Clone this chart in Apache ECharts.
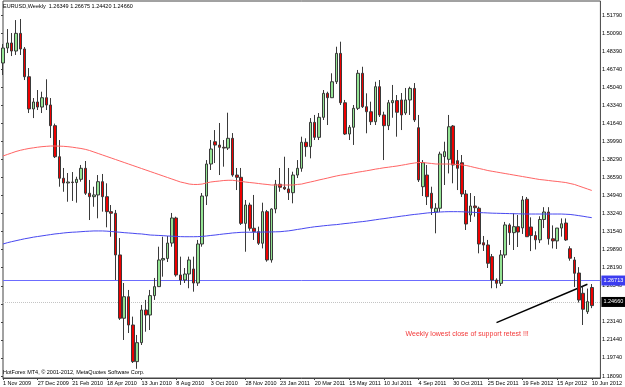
<!DOCTYPE html>
<html>
<head>
<meta charset="utf-8">
<script src="https://cdn.jsdelivr.net/npm/echarts@6/dist/echarts.min.js"></script>
<style>
  html, body { margin: 0; padding: 0; background: #fff; }
  #chart { width: 625px; height: 387px; }
</style>
</head>
<body>
<div id="chart"></div>
<script>
// EURUSD weekly, one bar per week starting Sunday
const symbolName = 'EURUSD,Weekly';
const firstWeek = '2009-11-01';
const copyright = 'HotForex MT4, \u00a9 2001-2012, MetaQuotes Software Corp.';

// right-hand price scale, bottom to top
const priceTicks = [
  '1.18090', '1.19740', '1.21440', '1.23140', '1.24840', '1.26540', '1.28190',
  '1.29890', '1.31540', '1.33240', '1.34940', '1.36590', '1.38290', '1.39990',
  '1.41640', '1.43340', '1.45040', '1.46740', '1.48390', '1.50090', '1.51790'
];

// [open, high, low, close]
const ohlc = [
  [1.4731, 1.4908, 1.4619, 1.4871], [1.4871, 1.5048, 1.4824, 1.4918], [1.4918, 1.5011, 1.4796, 1.4843],
  [1.4843, 1.5132, 1.4806, 1.5008], [1.5008, 1.5142, 1.4806, 1.4862], [1.4862, 1.4880, 1.4572, 1.4603],
  [1.4603, 1.4684, 1.4264, 1.4302], [1.4302, 1.4404, 1.4217, 1.4367], [1.4367, 1.4479, 1.4292, 1.4320],
  [1.4320, 1.4463, 1.4264, 1.4407], [1.4407, 1.4579, 1.4292, 1.4339], [1.4339, 1.4404, 1.4031, 1.4146],
  [1.4146, 1.4165, 1.3844, 1.3856], [1.3856, 1.4012, 1.3576, 1.3655], [1.3655, 1.3751, 1.3529, 1.3611],
  [1.3611, 1.3704, 1.3436, 1.3620], [1.3620, 1.3713, 1.3443, 1.3615], [1.3615, 1.3669, 1.3427, 1.3645],
  [1.3645, 1.3779, 1.3623, 1.3748], [1.3748, 1.3816, 1.3499, 1.3515], [1.3515, 1.3639, 1.3265, 1.3483],
  [1.3483, 1.3576, 1.3389, 1.3499], [1.3499, 1.3685, 1.3281, 1.3623], [1.3623, 1.3695, 1.3343, 1.3483],
  [1.3483, 1.3608, 1.3197, 1.3343], [1.3343, 1.3405, 1.3109, 1.3328], [1.3328, 1.3359, 1.2705, 1.2939],
  [1.2939, 1.3097, 1.2332, 1.2348], [1.2348, 1.2677, 1.2145, 1.2549], [1.2549, 1.2612, 1.2210, 1.2285],
  [1.2285, 1.2363, 1.1930, 1.1943], [1.1943, 1.2192, 1.1876, 1.2120], [1.2120, 1.2472, 1.2098, 1.2425],
  [1.2425, 1.2519, 1.2222, 1.2378], [1.2378, 1.2612, 1.2238, 1.2559], [1.2559, 1.2724, 1.2519, 1.2643],
  [1.2643, 1.3016, 1.2640, 1.2892], [1.2892, 1.3109, 1.2736, 1.2906], [1.2906, 1.3116, 1.2873, 1.3050],
  [1.3050, 1.3331, 1.3016, 1.3284], [1.3284, 1.3296, 1.2736, 1.2752], [1.2752, 1.2923, 1.2659, 1.2705],
  [1.2705, 1.2817, 1.2677, 1.2761], [1.2761, 1.2923, 1.2628, 1.2892], [1.2808, 1.2923, 1.2596, 1.2677],
  [1.2677, 1.3079, 1.2650, 1.3041], [1.3041, 1.3517, 1.3016, 1.3489], [1.3489, 1.3825, 1.3405, 1.3788],
  [1.3788, 1.4012, 1.3732, 1.3928], [1.3996, 1.4105, 1.3797, 1.3965], [1.3965, 1.4171, 1.3685, 1.3944],
  [1.3944, 1.4012, 1.3763, 1.3937], [1.3937, 1.4267, 1.3919, 1.4028], [1.4028, 1.4077, 1.3669, 1.3685],
  [1.3685, 1.3751, 1.3545, 1.3664], [1.3664, 1.3751, 1.3219, 1.3234], [1.3234, 1.3452, 1.2969, 1.3405],
  [1.3405, 1.3427, 1.3165, 1.3188], [1.3188, 1.3499, 1.3079, 1.3156], [1.3156, 1.3203, 1.3032, 1.3048],
  [1.3048, 1.3427, 1.3000, 1.3343], [1.3343, 1.3359, 1.2876, 1.2892], [1.2892, 1.3375, 1.2867, 1.3368],
  [1.3368, 1.3639, 1.3328, 1.3599], [1.3599, 1.3751, 1.3529, 1.3571], [1.3571, 1.3856, 1.3545, 1.3555],
  [1.3555, 1.3751, 1.3452, 1.3520], [1.3520, 1.3716, 1.3421, 1.3685], [1.3685, 1.3825, 1.3657, 1.3748],
  [1.3748, 1.4043, 1.3716, 1.3991], [1.3991, 1.4028, 1.3856, 1.3950], [1.3950, 1.4217, 1.3841, 1.4177],
  [1.4177, 1.4246, 1.4012, 1.4037], [1.4037, 1.4264, 1.4012, 1.4224], [1.4224, 1.4479, 1.4199, 1.4448],
  [1.4448, 1.4463, 1.4152, 1.4407], [1.4407, 1.4635, 1.4404, 1.4556], [1.4556, 1.4883, 1.4535, 1.4821],
  [1.4821, 1.4930, 1.4339, 1.4360], [1.4360, 1.4386, 1.4059, 1.4068], [1.4068, 1.4152, 1.4012, 1.4131],
  [1.4131, 1.4339, 1.3966, 1.4308], [1.4308, 1.4666, 1.4292, 1.4635], [1.4635, 1.4696, 1.4311, 1.4323],
  [1.4323, 1.4448, 1.4075, 1.4276], [1.4276, 1.4370, 1.4152, 1.4183], [1.4183, 1.4556, 1.4152, 1.4510],
  [1.4510, 1.4572, 1.4227, 1.4246], [1.4246, 1.4276, 1.3825, 1.4146], [1.4146, 1.4386, 1.4105, 1.4360],
  [1.4360, 1.4526, 1.4220, 1.4380], [1.4380, 1.4432, 1.4043, 1.4271], [1.4386, 1.4451, 1.4105, 1.4246],
  [1.4264, 1.4498, 1.4246, 1.4386], [1.4386, 1.4510, 1.4246, 1.4494], [1.4494, 1.4544, 1.4180, 1.4199],
  [1.4127, 1.4246, 1.3620, 1.3639], [1.3576, 1.3825, 1.3489, 1.3800], [1.3685, 1.3779, 1.3405, 1.3483],
  [1.3515, 1.3576, 1.3312, 1.3375], [1.3340, 1.3422, 1.3141, 1.3375], [1.3375, 1.3903, 1.3340, 1.3881],
  [1.3857, 1.3996, 1.3592, 1.3903], [1.3832, 1.4246, 1.3700, 1.4136], [1.4143, 1.4152, 1.3608, 1.3779],
  [1.3819, 1.3919, 1.3545, 1.3748], [1.3800, 1.3872, 1.3480, 1.3508], [1.3508, 1.3545, 1.3172, 1.3228],
  [1.3312, 1.3517, 1.3247, 1.3396], [1.3396, 1.3489, 1.3296, 1.3380], [1.3375, 1.3390, 1.2954, 1.3041],
  [1.3053, 1.3116, 1.2976, 1.3032], [1.3032, 1.3079, 1.2817, 1.2861], [1.2923, 1.2948, 1.2628, 1.2705],
  [1.2705, 1.2721, 1.2628, 1.2674], [1.2674, 1.2985, 1.2649, 1.2939], [1.2939, 1.3247, 1.2911, 1.3219],
  [1.3219, 1.3234, 1.3032, 1.3147], [1.3147, 1.3328, 1.2985, 1.3203], [1.3203, 1.3312, 1.3013, 1.3153],
  [1.3191, 1.3489, 1.3135, 1.3452], [1.3459, 1.3480, 1.3107, 1.3109], [1.3200, 1.3290, 1.2975, 1.3120],
  [1.3120, 1.3160, 1.2990, 1.3080], [1.3080, 1.3300, 1.3050, 1.3270], [1.3270, 1.3385, 1.3190, 1.3340],
  [1.3340, 1.3385, 1.3035, 1.3090], [1.3090, 1.3215, 1.3000, 1.3070], [1.3070, 1.3190, 1.2995, 1.3190],
  [1.3190, 1.3280, 1.3110, 1.3230], [1.3237, 1.3280, 1.3070, 1.3079], [1.2997, 1.3020, 1.2885, 1.2908],
  [1.2892, 1.2920, 1.2640, 1.2768], [1.2770, 1.2825, 1.2495, 1.2518], [1.2581, 1.2643, 1.2285, 1.2432],
  [1.2409, 1.2625, 1.2388, 1.2503], [1.26349, 1.26675, 1.24420, 1.24660]
];

// slow moving average (red)
const maRed = [
  1.3863, 1.3877, 1.3891, 1.3905, 1.3916, 1.3925, 1.3933, 1.3939, 1.3945, 1.3950,
  1.3953, 1.3956, 1.3956, 1.3955, 1.3953, 1.3950, 1.3945, 1.3939, 1.3933, 1.3925,
  1.3914, 1.3900, 1.3886, 1.3872, 1.3858, 1.3844, 1.3830, 1.3816, 1.3802, 1.3788,
  1.3774, 1.3760, 1.3746, 1.3732, 1.3718, 1.3704, 1.3690, 1.3676, 1.3662, 1.3648,
  1.3634, 1.3620, 1.3611, 1.3601, 1.3597, 1.3597, 1.3601, 1.3611, 1.3620, 1.3625,
  1.3629, 1.3634, 1.3636, 1.3636, 1.3631, 1.3625, 1.3620, 1.3615, 1.3611, 1.3606,
  1.3601, 1.3597, 1.3592, 1.3592, 1.3592, 1.3592, 1.3592, 1.3592, 1.3597, 1.3601,
  1.3611, 1.3620, 1.3629, 1.3639, 1.3648, 1.3657, 1.3667, 1.3676, 1.3684, 1.3690,
  1.3697, 1.3704, 1.3712, 1.3718, 1.3725, 1.3732, 1.3740, 1.3746, 1.3753, 1.3758,
  1.3764, 1.3769, 1.3776, 1.3783, 1.3791, 1.3797, 1.3802, 1.3802, 1.3797, 1.3793,
  1.3788, 1.3788, 1.3788, 1.3788, 1.3786, 1.3783, 1.3779, 1.3774, 1.3765, 1.3755,
  1.3746, 1.3737, 1.3727, 1.3720, 1.3713, 1.3706, 1.3699, 1.3692, 1.3685, 1.3678,
  1.3671, 1.3664, 1.3657, 1.3650, 1.3643, 1.3639, 1.3634, 1.3629, 1.3625, 1.3620,
  1.3615, 1.3606, 1.3597, 1.3583, 1.3569, 1.3555, 1.3541
];

// longer moving average (blue)
const maBlue = [
  1.3041, 1.3053, 1.3063, 1.3072, 1.3081, 1.3090, 1.3097, 1.3105, 1.3111, 1.3117,
  1.3123, 1.3129, 1.3135, 1.3139, 1.3144, 1.3148, 1.3151, 1.3153, 1.3156, 1.3159,
  1.3161, 1.3163, 1.3163, 1.3163, 1.3161, 1.3158, 1.3154, 1.3151, 1.3147, 1.3144,
  1.3141, 1.3137, 1.3135, 1.3130, 1.3125, 1.3123, 1.3121, 1.3119, 1.3116, 1.3114,
  1.3112, 1.3110, 1.3109, 1.3109, 1.3109, 1.3110, 1.3112, 1.3116, 1.3121, 1.3125,
  1.3130, 1.3135, 1.3139, 1.3144, 1.3147, 1.3150, 1.3151, 1.3151, 1.3151, 1.3152,
  1.3153, 1.3153, 1.3154, 1.3155, 1.3156, 1.3160, 1.3164, 1.3170, 1.3177, 1.3183,
  1.3190, 1.3196, 1.3202, 1.3206, 1.3211, 1.3215, 1.3219, 1.3222, 1.3227, 1.3232,
  1.3236, 1.3241, 1.3246, 1.3250, 1.3255, 1.3261, 1.3267, 1.3273, 1.3278, 1.3284,
  1.3290, 1.3295, 1.3301, 1.3306, 1.3312, 1.3317, 1.3321, 1.3326, 1.3331, 1.3334,
  1.3337, 1.3340, 1.3342, 1.3343, 1.3343, 1.3343, 1.3342, 1.3340, 1.3338, 1.3336,
  1.3334, 1.3333, 1.3331, 1.3329, 1.3328, 1.3327, 1.3326, 1.3325, 1.3324, 1.3323,
  1.3322, 1.3321, 1.3321, 1.3321, 1.3321, 1.3321, 1.3321, 1.3321, 1.3321, 1.3321,
  1.3319, 1.3317, 1.3312, 1.3306, 1.3300, 1.3293, 1.3287
];

const supportLevel = 1.26713;
const bidPrice = 1.24660;
const trendLine = [[114, 1.2307], [135, 1.2665]];
const noteText = 'Weekly lowest close of support retest !!!';
const noteAt = [93.4, 1.2201];

const MONTHS = ['Jan', 'Feb', 'Mar', 'Apr', 'May', 'Jun', 'Jul', 'Aug', 'Sep', 'Oct', 'Nov', 'Dec'];
const FONT = '"Liberation Sans", Arial, sans-serif';
const AXIS_FONT = 5.5;

// week labels, plus two empty slots for the chart shift on the right
const weeks = [];
const start = Date.parse(firstWeek + 'T00:00:00Z');
for (let i = 0; i < ohlc.length + 2; i++) {
  if (i >= ohlc.length) { weeks.push(' '.repeat(i - ohlc.length + 1)); continue; }
  const d = new Date(start + i * 7 * 86400000);
  weeks.push(d.getUTCDate() + ' ' + MONTHS[d.getUTCMonth()] + ' ' + d.getUTCFullYear());
}

const candles = ohlc.map(([o, h, l, c]) => [o, c, l, h]);
const last = ohlc[ohlc.length - 1];
const isTick = (i) => i % 8 === 0 && i < ohlc.length;

const chart = echarts.init(document.getElementById('chart'), null, { renderer: 'canvas' });

// price boxes on the scale sit on top of the tick labels they cover
const priceBox = (value, bg) => ({
  show: true, position: 'end', distance: 1,
  formatter: value.toFixed(5),
  color: '#fff', backgroundColor: bg,
  fontSize: AXIS_FONT, padding: [2, 2, 2, 2], fontFamily: FONT
});

const option = {
  animation: false,
  backgroundColor: '#fff',
  textStyle: { fontFamily: FONT },
  grid: [
    { left: 1, right: 21, top: 1, bottom: 9, show: true, borderColor: '#444', borderWidth: 1, backgroundColor: '#fff' },
    { left: 1, right: 21, top: 15, bottom: 11 }
  ],
  xAxis: [
    {
      type: 'category',
      gridIndex: 0,
      data: weeks,
      boundaryGap: false,
      axisLine: { show: true, lineStyle: { color: '#444', width: 1 } },
      axisTick: { show: true, length: 2, interval: (i) => isTick(i), lineStyle: { color: '#444' } },
      axisLabel: {
        show: true,
        interval: (i) => isTick(i),
        align: 'left',
        margin: 2,
        fontSize: AXIS_FONT,
        color: '#000',
        fontFamily: FONT
      },
      splitLine: { show: false }
    },
    { type: 'value', gridIndex: 1, show: false, min: 0, max: 1 }
  ],
  yAxis: [
    {
      type: 'value',
      gridIndex: 0,
      position: 'right',
      min: 1.1790,
      max: 1.5310,
      axisLine: { show: false },
      axisTick: { show: false },
      axisLabel: { show: false },
      splitLine: { show: false }
    },
    {
      type: 'value',
      gridIndex: 1,
      position: 'right',
      min: 0,
      max: priceTicks.length - 1,
      interval: 1,
      z: 0,
      axisLine: { show: false },
      axisTick: { show: true, length: 2, lineStyle: { color: '#444' } },
      axisLabel: {
        margin: 2,
        fontSize: AXIS_FONT,
        color: '#000',
        fontFamily: FONT,
        formatter: (v) => priceTicks[Math.round(v)] || ''
      },
      splitLine: { show: false }
    }
  ],
  graphic: [
    {
      type: 'text', left: 3, top: 3, z: 100,
      style: {
        text: symbolName + '  ' + last.map((v) => v.toFixed(5)).join(' '),
        font: AXIS_FONT + 'px ' + FONT, fill: '#000'
      }
    },
    {
      type: 'text', left: 3, top: 369, z: 100,
      style: { text: copyright, font: AXIS_FONT + 'px ' + FONT, fill: '#000' }
    }
  ],
  series: [
    {
      name: 'EURUSD',
      type: 'candlestick',
      xAxisIndex: 0,
      yAxisIndex: 0,
      data: candles,
      barWidth: 3,
      z: 5,
      itemStyle: {
        color: '#94e494',
        color0: '#ee0000',
        borderColor: '#3a3a3a',
        borderColor0: '#3a3a3a',
        borderWidth: 1
      },
      markLine: {
        silent: true,
        symbol: 'none',
        animation: false,
        data: [
          {
            yAxis: supportLevel,
            lineStyle: { color: '#6c6cff', type: 'solid', width: 1 },
            label: priceBox(supportLevel, '#3c3cf0')
          },
          {
            yAxis: bidPrice,
            lineStyle: { color: '#c4c4c4', type: 'dotted', width: 1 },
            label: priceBox(bidPrice, '#000')
          },
          [
            { coord: trendLine[0], lineStyle: { color: '#000', type: 'solid', width: 1.5 }, label: { show: false } },
            { coord: trendLine[1] }
          ]
        ]
      },
      markPoint: {
        silent: true,
        symbol: 'circle',
        symbolSize: 0,
        data: [
          {
            coord: noteAt,
            label: {
              show: true, position: 'right', distance: 0,
              formatter: noteText,
              color: '#f23a3a', fontSize: 7, fontFamily: FONT
            }
          }
        ]
      }
    },
    {
      name: 'MA red',
      type: 'line',
      xAxisIndex: 0,
      yAxisIndex: 0,
      data: maRed,
      symbol: 'none',
      z: 6,
      lineStyle: { color: '#ff6464', width: 1 }
    },
    {
      name: 'MA blue',
      type: 'line',
      xAxisIndex: 0,
      yAxisIndex: 0,
      data: maBlue,
      symbol: 'none',
      z: 6,
      lineStyle: { color: '#4848f0', width: 1 }
    }
  ]
};

chart.setOption(option);
</script>
</body>
</html>
